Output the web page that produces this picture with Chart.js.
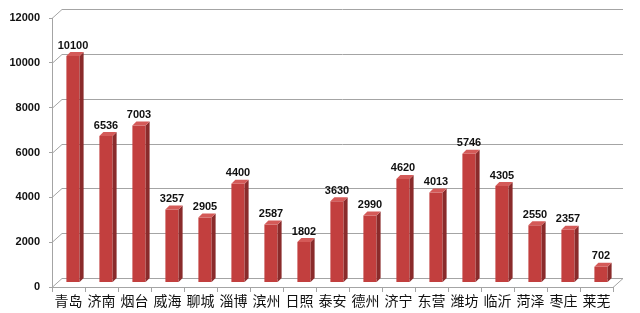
<!DOCTYPE html>
<html>
<head>
<meta charset="utf-8">
<script src="https://cdn.jsdelivr.net/npm/chart.js@4"></script>
<style>
  html, body { margin: 0; padding: 0; background: #fff; }
  #wrap { width: 640px; height: 313px; }
</style>
</head>
<body>
<div id="wrap"><canvas id="chart" width="640" height="313"></canvas></div>
<script>
const cities = ['青岛', '济南', '烟台', '威海', '聊城', '淄博', '滨州', '日照', '泰安', '德州', '济宁', '东营', '潍坊', '临沂', '菏泽', '枣庄', '莱芜'];
const values = [10100, 6536, 7003, 3257, 2905, 4400, 2587, 1802, 3630, 2990, 4620, 4013, 5746, 4305, 2550, 2357, 702];
const yTicks = [0, 2000, 4000, 6000, 8000, 10000, 12000];

// 3D depth: back wall offset and bar (mid-depth) offset
const BACK = { dx: 10, dy: -9 };
const MID = { dx: 4.5, dy: -4.5 };
const DEPTH = 4;

// back wall gridlines, floor edge and the 3D faces of the bars
const wallPlugin = {
    id: 'wall',
    beforeDatasetsDraw(chart) {
        const ctx = chart.ctx;
        const y = chart.scales.y;
        const area = chart.chartArea;
        ctx.save();
        ctx.strokeStyle = '#a4a4a4';
        ctx.lineWidth = 1;
        yTicks.forEach(v => {
            const py = Math.round(y.getPixelForValue(v)) + 0.5;
            ctx.beginPath();
            ctx.moveTo(area.left, py);
            ctx.lineTo(area.left + BACK.dx, py + BACK.dy);
            ctx.lineTo(area.right + BACK.dx, py + BACK.dy);
            ctx.stroke();
        });
        const by = Math.round(y.getPixelForValue(0)) + 0.5;
        ctx.beginPath();
        ctx.moveTo(area.right, by);
        ctx.lineTo(area.right + BACK.dx, by + BACK.dy);
        ctx.stroke();
        ctx.restore();

        // shift bars to mid depth
        ctx.save();
        ctx.translate(MID.dx, MID.dy);
    },
    afterDatasetsDraw(chart) {
        const ctx = chart.ctx;
        const meta = chart.getDatasetMeta(0);
        meta.data.forEach(bar => {
            const w = bar.width;
            const l = bar.x - w / 2, r = bar.x + w / 2;
            const t = bar.y, b = bar.base;
            // side face
            ctx.fillStyle = '#8a2b2b';
            ctx.beginPath();
            ctx.moveTo(r, t);
            ctx.lineTo(r + DEPTH, t - DEPTH);
            ctx.lineTo(r + DEPTH, b - DEPTH);
            ctx.lineTo(r, b);
            ctx.closePath();
            ctx.fill();
            // top face
            ctx.fillStyle = '#d45a58';
            ctx.beginPath();
            ctx.moveTo(l, t);
            ctx.lineTo(l + DEPTH, t - DEPTH);
            ctx.lineTo(r + DEPTH, t - DEPTH);
            ctx.lineTo(r, t);
            ctx.closePath();
            ctx.fill();
        });
        // value labels
        ctx.fillStyle = '#111';
        ctx.font = 'bold 11px "Liberation Sans", Arial, sans-serif';
        ctx.textAlign = 'center';
        ctx.textBaseline = 'bottom';
        meta.data.forEach((bar, i) => {
            ctx.fillText(String(values[i]), bar.x, bar.y - DEPTH - 1);
        });
        ctx.restore();
    }
};

const ctx = document.getElementById('chart').getContext('2d');

new Chart(ctx, {
    type: 'bar',
    data: {
        labels: cities,
        datasets: [{
            data: values,
            backgroundColor: (c) => {
                const bar = c.chart.getDatasetMeta(0).data[c.dataIndex];
                if (!bar || !bar.width) return '#c23f3e';
                const g = c.chart.ctx.createLinearGradient(bar.x - bar.width / 2, 0, bar.x + bar.width / 2, 0);
                g.addColorStop(0, '#b83434');
                g.addColorStop(0.45, '#d04a48');
                g.addColorStop(1, '#b53232');
                return g;
            },
            borderWidth: 0,
            barPercentage: 0.4,
            categoryPercentage: 1.0
        }]
    },
    options: {
        responsive: false,
        animation: false,
        layout: { padding: { top: 18, right: 27, left: 0, bottom: 0 } },
        plugins: {
            legend: { display: false },
            tooltip: { enabled: false }
        },
        scales: {
            x: {
                offset: true,
                grid: {
                    display: true,
                    drawOnChartArea: false,
                    drawTicks: true,
                    tickLength: 5,
                    offset: true,
                    color: '#a4a4a4'
                },
                border: { display: true, color: '#a4a4a4' },
                ticks: {
                    color: '#111',
                    font: { family: '"Noto Sans CJK SC", sans-serif', size: 14 },
                    padding: 0,
                    maxRotation: 0,
                    autoSkip: false
                },
                afterFit: (s) => { s.height = 26; }
            },
            y: {
                min: 0,
                max: 12000,
                afterBuildTicks: (s) => { s.ticks = yTicks.map(v => ({ value: v })); },
                grid: {
                    display: true,
                    drawOnChartArea: false,
                    drawTicks: true,
                    tickLength: 3,
                    color: '#a4a4a4'
                },
                border: { display: true, color: '#a4a4a4' },
                ticks: {
                    color: '#111',
                    font: { family: '"Liberation Sans", Arial, sans-serif', size: 11, weight: 'bold' },
                    padding: 9,
                    callback: (v) => String(v)
                },
                afterFit: (s) => { s.width = 52; }
            }
        }
    },
    plugins: [wallPlugin]
});
</script>
</body>
</html>
